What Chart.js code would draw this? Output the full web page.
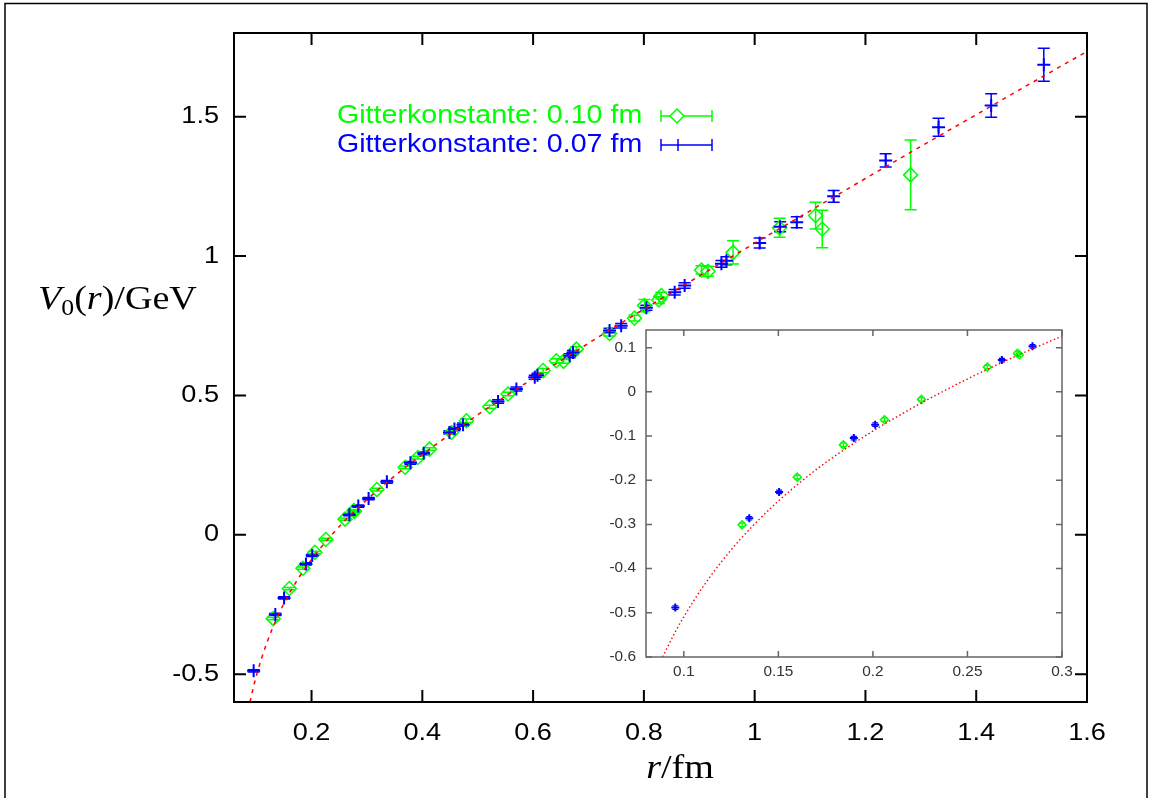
<!DOCTYPE html>
<html>
<head>
<meta charset="utf-8">
<script src="https://cdn.jsdelivr.net/npm/chart.js@4"></script>
<style>
  html, body { margin: 0; padding: 0; background: #fff; }
  #wrap { position: relative; width: 1150px; height: 798px; }
  #main { position: absolute; left: 0; top: 0; }
  #inset { position: absolute; left: 600px; top: 320px; }
</style>
</head>
<body>
<div id="wrap">
  <canvas id="main" width="1150" height="798" style="width:1150px;height:798px"></canvas>
  <canvas id="inset" width="485" height="370" style="width:485px;height:370px"></canvas>
</div>
<script>
// lattice spacing 0.10 fm (green diamonds)
const greenR   = [0.1308, 0.160, 0.1844, 0.2061, 0.2257, 0.2605, 0.2764, 0.2775, 0.318, 0.369, 0.392, 0.413, 0.4525, 0.4796, 0.5217, 0.5547, 0.618, 0.642, 0.655, 0.678, 0.738, 0.783, 0.801, 0.827, 0.8316, 0.904, 0.9157, 0.961, 1.045, 1.110, 1.122, 1.2816];
const greenV   = [-0.301, -0.193, -0.120, -0.063, -0.017, 0.056, 0.087, 0.084, 0.162, 0.242, 0.277, 0.307, 0.367, 0.409, 0.459, 0.505, 0.589, 0.624, 0.622, 0.666, 0.722, 0.777, 0.822, 0.842, 0.858, 0.950, 0.945, 1.013, 1.101, 1.145, 1.097, 1.291];
const greenErr = [0.004, 0.004, 0.004, 0.004, 0.004, 0.004, 0.004, 0.004, 0.005, 0.005, 0.005, 0.005, 0.006, 0.006, 0.006, 0.006, 0.007, 0.007, 0.007, 0.008, 0.009, 0.010, 0.022, 0.012, 0.012, 0.015, 0.018, 0.042, 0.034, 0.048, 0.067, 0.125];

// lattice spacing 0.07 fm (blue crosses)
const blueR   = [0.0955, 0.1346, 0.1504, 0.1899, 0.2012, 0.2682, 0.2844, 0.303, 0.336, 0.3785, 0.4025, 0.449, 0.458, 0.4735, 0.5367, 0.5698, 0.603, 0.608, 0.666, 0.672, 0.738, 0.759, 0.8045, 0.8556, 0.8736, 0.940, 0.949, 1.009, 1.046, 1.076, 1.1426, 1.2365, 1.332, 1.427, 1.522];
const blueV   = [-0.488, -0.286, -0.2265, -0.1045, -0.0742, 0.072, 0.103, 0.130, 0.190, 0.258, 0.292, 0.367, 0.379, 0.395, 0.478, 0.523, 0.565, 0.572, 0.642, 0.654, 0.733, 0.750, 0.814, 0.870, 0.894, 0.972, 0.983, 1.047, 1.105, 1.121, 1.214, 1.343, 1.462, 1.540, 1.686];
const blueErr = [0.004, 0.004, 0.004, 0.004, 0.004, 0.004, 0.004, 0.004, 0.005, 0.005, 0.005, 0.006, 0.006, 0.006, 0.006, 0.007, 0.007, 0.007, 0.007, 0.007, 0.008, 0.008, 0.009, 0.010, 0.010, 0.012, 0.014, 0.018, 0.018, 0.020, 0.021, 0.024, 0.032, 0.042, 0.059];

// fit curve
const curveR = [0.0888, 0.095, 0.1, 0.11, 0.12, 0.13, 0.14, 0.15, 0.17, 0.19, 0.21, 0.23, 0.26, 0.3, 0.35, 0.4, 0.5, 0.6, 0.7, 0.8, 0.9, 1.0, 1.1, 1.2, 1.3, 1.4, 1.5, 1.6];
const curveV = [-0.600, -0.547, -0.509, -0.442, -0.384, -0.333, -0.288, -0.247, -0.176, -0.116, -0.063, -0.015, 0.050, 0.126, 0.211, 0.288, 0.430, 0.561, 0.687, 0.809, 0.928, 1.046, 1.162, 1.278, 1.393, 1.507, 1.621, 1.734];

// tick labels
const mainXTicks  = [0.2, 0.4, 0.6, 0.8, 1, 1.2, 1.4, 1.6];
const mainYTicks  = [-0.5, 0, 0.5, 1, 1.5];
const insetXTicks = [0.1, 0.15, 0.2, 0.25, 0.3];
const insetYTicks = [-0.6, -0.5, -0.4, -0.3, -0.2, -0.1, 0, 0.1];

const legendLabels = ['Gitterkonstante: 0.10 fm', 'Gitterkonstante: 0.07 fm'];

const GREEN = '#00ff00', BLUE = '#0000ff', RED = '#ff0000';

const pts = (xs, ys) => xs.map((x, i) => ({x: x, y: ys[i]}));

// text with a slight horizontal stretch, like the original postscript output
function stretchText(ctx, text, x, y, align, sx) {
    ctx.save();
    ctx.translate(x, y);
    ctx.scale(sx, 1);
    ctx.textAlign = align;
    ctx.fillText(text, 0, 0);
    ctx.restore();
}

// vertical error bars with caps
const errorBars = {
    id: 'errorBars',
    beforeDatasetsDraw(chart, args, o) {
        const {ctx, chartArea: a, scales: {x, y}} = chart;
        ctx.save();
        ctx.beginPath();
        ctx.rect(a.left, a.top, a.right - a.left, a.bottom - a.top);
        ctx.clip();
        chart.data.datasets.forEach(ds => {
            if (!ds.errors) return;
            ctx.strokeStyle = ds.borderColor;
            ctx.lineWidth = o.width;
            ds.data.forEach((p, i) => {
                const px = x.getPixelForValue(p.x);
                if (px < a.left || px > a.right) return;
                const y1 = y.getPixelForValue(p.y - ds.errors[i]);
                const y2 = y.getPixelForValue(p.y + ds.errors[i]);
                ctx.beginPath();
                ctx.moveTo(px, y1); ctx.lineTo(px, y2);
                ctx.moveTo(px - o.cap, y1); ctx.lineTo(px + o.cap, y1);
                ctx.moveTo(px - o.cap, y2); ctx.lineTo(px + o.cap, y2);
                ctx.stroke();
            });
        });
        ctx.restore();
    }
};

// box, inward ticks on all four sides, tick labels
const frame = {
    id: 'frame',
    afterDraw(chart, args, o) {
        const {ctx, chartArea: a, scales: {x, y}} = chart;
        ctx.save();
        ctx.strokeStyle = o.color;
        ctx.lineWidth = o.width;
        ctx.beginPath();
        x.ticks.forEach(t => {
            const px = x.getPixelForValue(t.value);
            ctx.moveTo(px, a.bottom); ctx.lineTo(px, a.bottom - o.len);
            ctx.moveTo(px, a.top); ctx.lineTo(px, a.top + o.len);
        });
        y.ticks.forEach(t => {
            const py = y.getPixelForValue(t.value);
            ctx.moveTo(a.left, py); ctx.lineTo(a.left + o.len, py);
            ctx.moveTo(a.right, py); ctx.lineTo(a.right - o.len, py);
        });
        ctx.stroke();
        ctx.strokeRect(a.left, a.top, a.right - a.left, a.bottom - a.top);

        ctx.fillStyle = o.textColor;
        ctx.font = o.font;
        ctx.textBaseline = 'middle';
        x.ticks.forEach(t => stretchText(ctx, String(t.value), x.getPixelForValue(t.value), a.bottom + o.xGap, 'center', o.sx));
        y.ticks.forEach(t => stretchText(ctx, String(t.value), a.left - o.yGap, y.getPixelForValue(t.value), 'right', o.sx));
        ctx.restore();
    }
};

// legend, axis titles and the outer page border
const decorations = {
    id: 'decorations',
    beforeDraw(chart) {
        const ctx = chart.ctx;
        ctx.save();
        ctx.fillStyle = '#fff';
        ctx.fillRect(0, 0, chart.width, chart.height);
        ctx.restore();
    },
    afterDraw(chart) {
        const ctx = chart.ctx;
        ctx.save();

        // outer border
        ctx.strokeStyle = '#000';
        ctx.lineWidth = 1.5;
        ctx.strokeRect(5, 3.5, 1142, 820);

        // legend
        const rows = [
            {label: legendLabels[0], color: GREEN, y: 116, diamond: true},
            {label: legendLabels[1], color: BLUE, y: 145, diamond: false}
        ];
        ctx.font = '26px "Liberation Sans", Arial, sans-serif';
        ctx.textBaseline = 'middle';
        rows.forEach(r => {
            ctx.fillStyle = r.color;
            stretchText(ctx, r.label, 337, r.y, 'left', 1.1);
            ctx.strokeStyle = r.color;
            ctx.lineWidth = 1.5;
            ctx.beginPath();
            ctx.moveTo(661, r.y); ctx.lineTo(712, r.y);
            ctx.moveTo(661, r.y - 6); ctx.lineTo(661, r.y + 6);
            ctx.moveTo(712, r.y - 6); ctx.lineTo(712, r.y + 6);
            ctx.stroke();
            if (r.diamond) {
                ctx.fillStyle = '#fff';
                ctx.beginPath();
                ctx.moveTo(677, r.y - 7); ctx.lineTo(684, r.y);
                ctx.lineTo(677, r.y + 7); ctx.lineTo(670, r.y);
                ctx.closePath();
                ctx.fill();
                ctx.stroke();
            } else {
                ctx.beginPath();
                ctx.moveTo(678, r.y - 6); ctx.lineTo(678, r.y + 6);
                ctx.stroke();
            }
        });

        // axis titles (TeX style)
        ctx.fillStyle = '#000';
        ctx.textBaseline = 'alphabetic';
        const sx = 1.12;
        const it = 'italic 34px "Liberation Serif", serif';
        const up = '34px "Liberation Serif", serif';
        const sub = '23px "Liberation Serif", serif';
        let parts = [
            {t: 'V', f: it, dy: 0},
            {t: '0', f: sub, dy: 6},
            {t: '(', f: up, dy: 0},
            {t: 'r', f: it, dy: 0},
            {t: ')/GeV', f: up, dy: 0}
        ];
        let cx = 38;
        parts.forEach(p => {
            ctx.font = p.f;
            stretchText(ctx, p.t, cx, 309 + p.dy, 'left', sx);
            cx += ctx.measureText(p.t).width * sx;
        });

        parts = [
            {t: 'r', f: it},
            {t: '/fm', f: up}
        ];
        let total = 0;
        parts.forEach(p => { ctx.font = p.f; total += ctx.measureText(p.t).width * sx; });
        cx = 680 - total / 2;
        parts.forEach(p => {
            ctx.font = p.f;
            stretchText(ctx, p.t, cx, 778, 'left', sx);
            cx += ctx.measureText(p.t).width * sx;
        });
        ctx.restore();
    }
};

function fixedTicks(list) {
    return scale => { scale.ticks = list.map(v => ({value: v})); };
}

function makeDatasets(small) {
    return [
        {
            label: 'fit',
            data: pts(curveR, curveV),
            showLine: true,
            borderColor: RED,
            borderWidth: small ? 1.4 : 1.5,
            borderDash: small ? [1.5, 2.5] : [4, 5],
            pointRadius: 0,
            cubicInterpolationMode: 'monotone',
            fill: false
        },
        {
            label: legendLabels[1],
            data: pts(blueR, blueV),
            errors: blueErr,
            borderColor: BLUE,
            backgroundColor: BLUE,
            pointStyle: 'cross',
            pointRadius: small ? 4 : 6.5,
            pointBorderWidth: 2,
            clip: small ? 0 : 8
        },
        {
            label: legendLabels[0],
            data: pts(greenR, greenV),
            errors: greenErr,
            borderColor: GREEN,
            backgroundColor: 'rgba(255,255,255,0)',
            pointStyle: 'rectRot',
            pointRadius: small ? 4 : 7,
            pointBorderWidth: 1.5,
            clip: small ? 0 : 8
        }
    ];
}

function axis(min, max, ticks, size) {
    return {
        type: 'linear',
        min: min,
        max: max,
        afterBuildTicks: fixedTicks(ticks),
        afterFit: size,
        grid: {display: false, drawTicks: false},
        border: {display: false},
        ticks: {display: false}
    };
}

new Chart(document.getElementById('main'), {
    type: 'scatter',
    data: {datasets: makeDatasets(false)},
    options: {
        responsive: false,
        animation: false,
        events: [],
        layout: {padding: {left: 0, right: 63, top: 33, bottom: 0}},
        scales: {
            x: axis(0.06, 1.6, mainXTicks, s => { s.height = 96; }),
            y: axis(-0.6, 1.8, mainYTicks, s => { s.width = 234; })
        },
        plugins: {
            legend: {display: false},
            tooltip: {enabled: false},
            errorBars: {width: 1.5, cap: 6},
            frame: {color: '#000', width: 2, len: 12, textColor: '#000',
                    font: '24px "Liberation Sans", Arial, sans-serif', sx: 1.13, xGap: 31, yGap: 15}
        }
    },
    plugins: [decorations, errorBars, frame]
});

new Chart(document.getElementById('inset'), {
    type: 'scatter',
    data: {datasets: makeDatasets(true)},
    options: {
        responsive: false,
        animation: false,
        events: [],
        layout: {padding: {left: 0, right: 23, top: 10, bottom: 0}},
        scales: {
            x: axis(0.08, 0.3, insetXTicks, s => { s.height = 33; }),
            y: axis(-0.6, 0.14, insetYTicks, s => { s.width = 46; })
        },
        plugins: {
            legend: {display: false},
            tooltip: {enabled: false},
            errorBars: {width: 1.2, cap: 3},
            frame: {color: '#666', width: 1.5, len: 6, textColor: '#333',
                    font: '14px "Liberation Sans", Arial, sans-serif', sx: 1.1, xGap: 15, yGap: 10}
        }
    },
    plugins: [errorBars, frame]
});
</script>
</body>
</html>
